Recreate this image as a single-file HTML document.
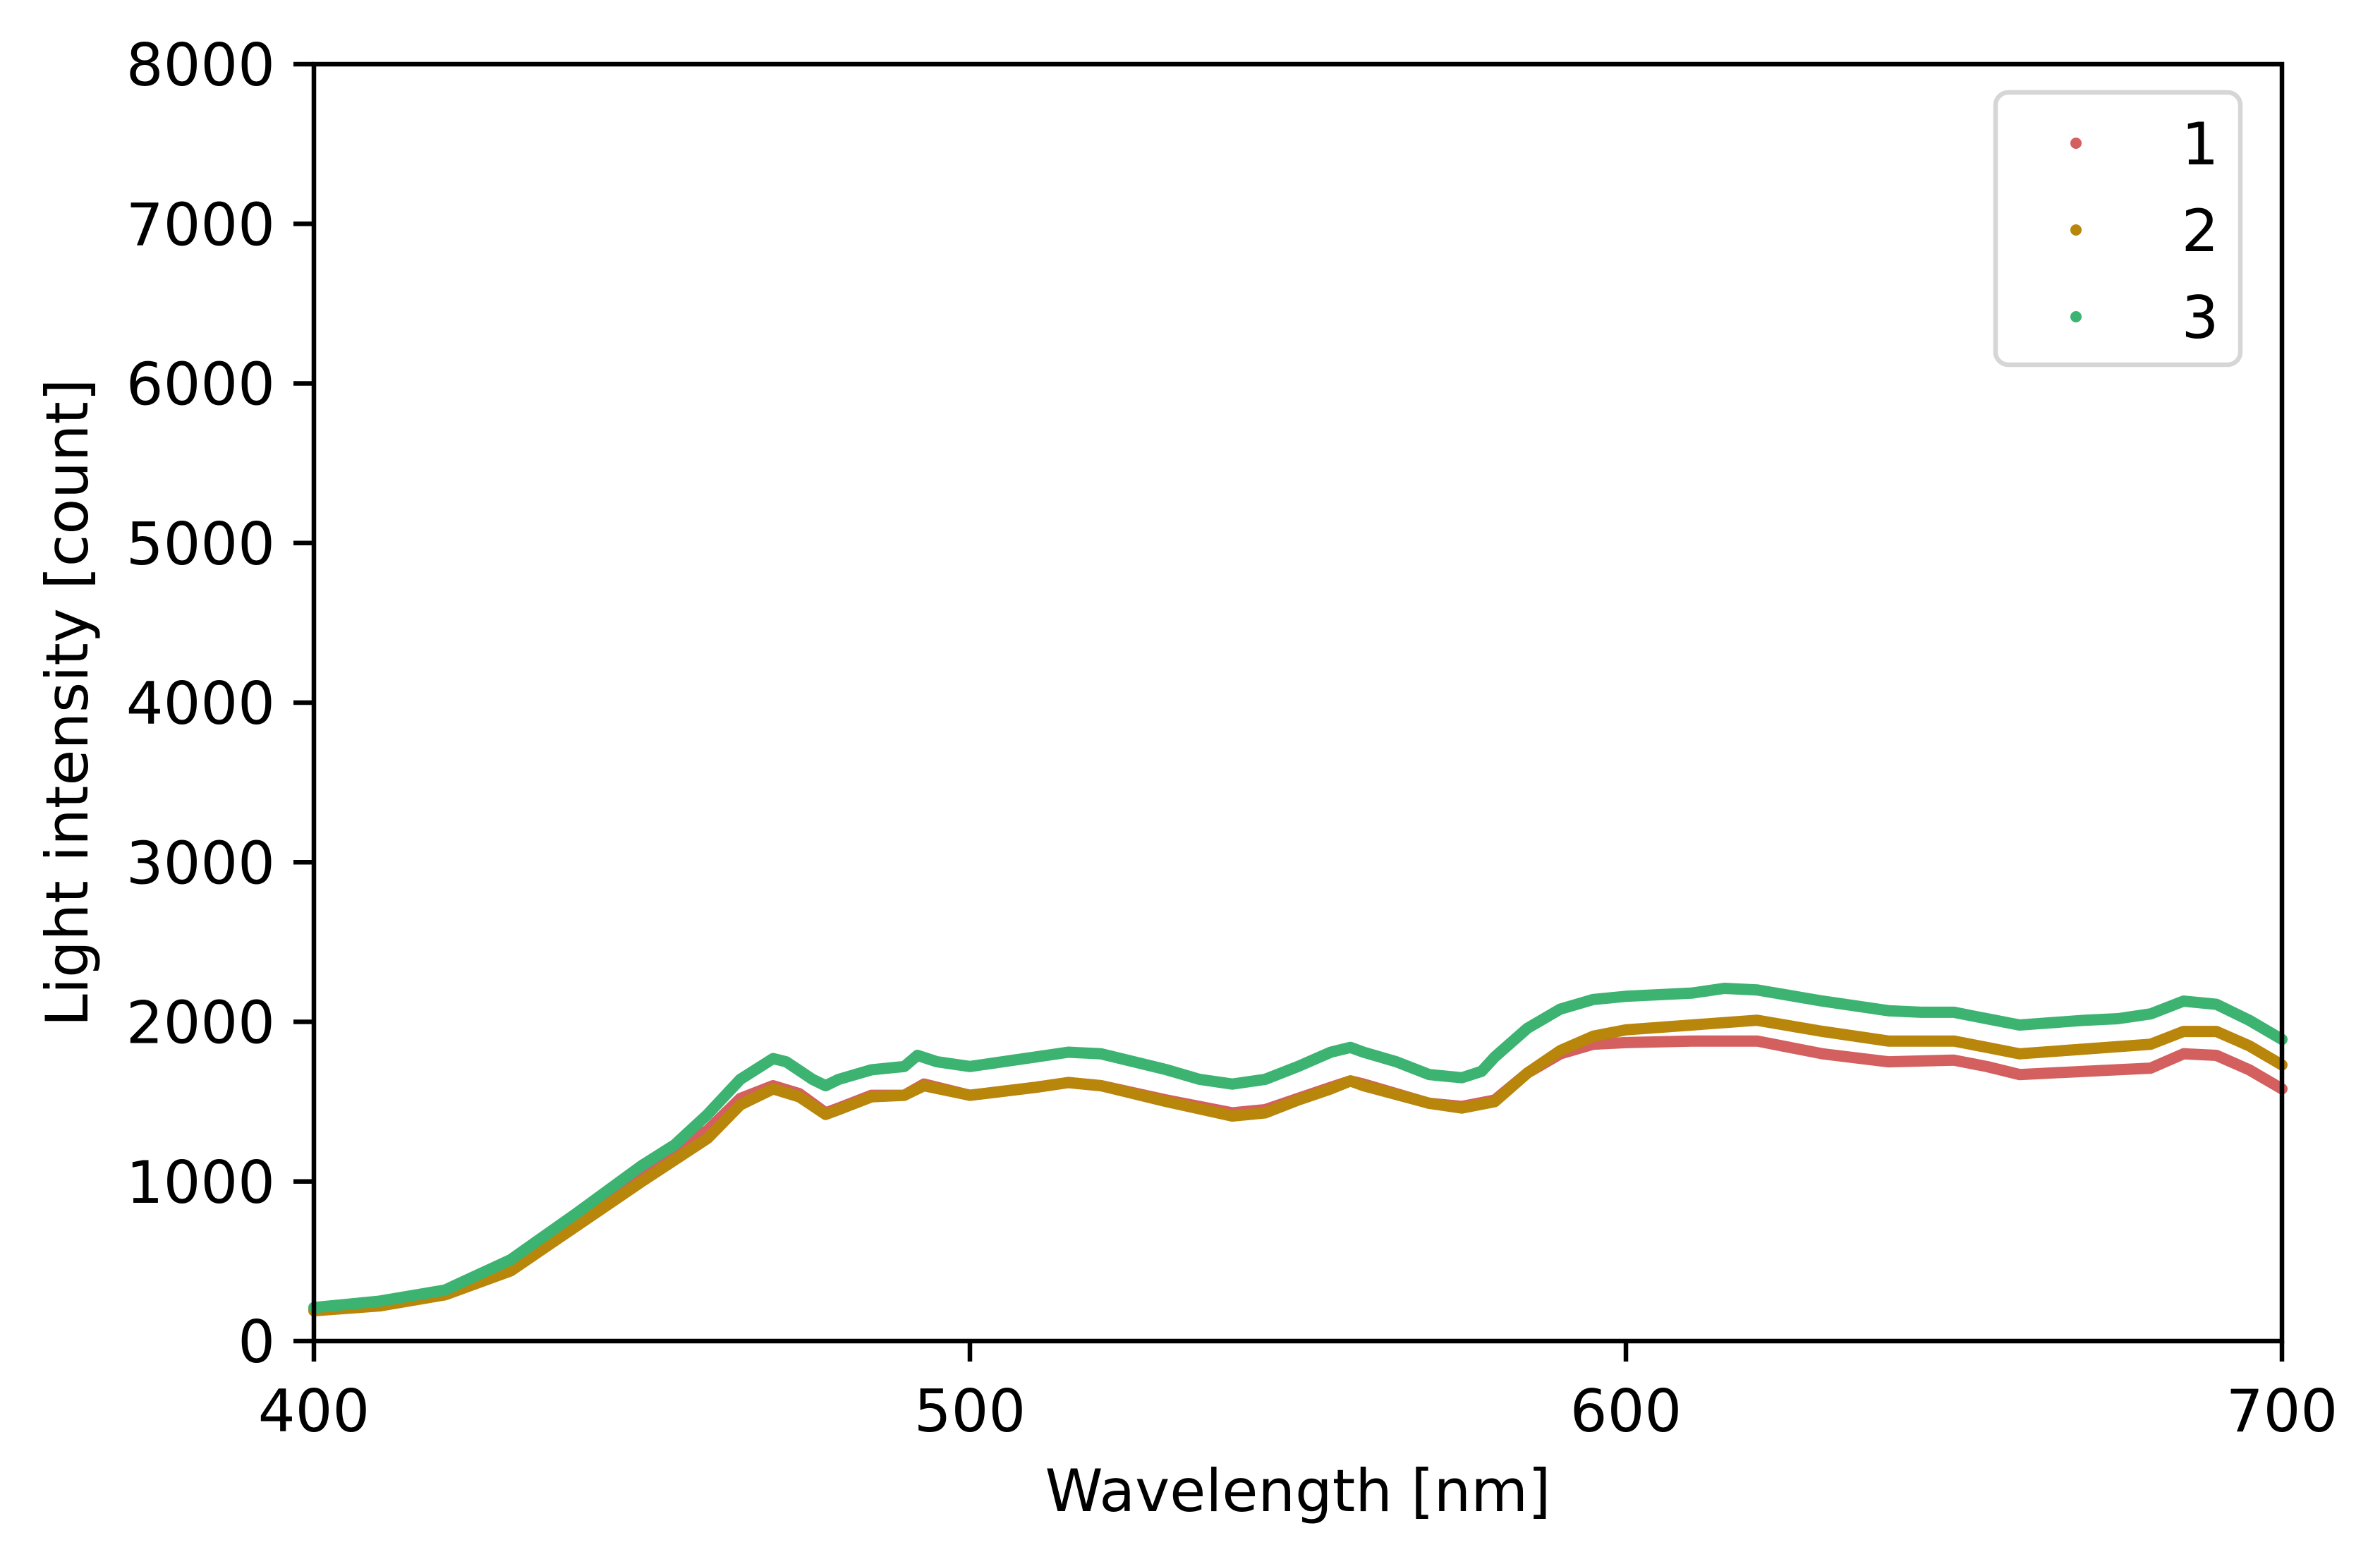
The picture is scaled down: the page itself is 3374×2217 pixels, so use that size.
<!DOCTYPE html>
<html><head><meta charset="utf-8"><style>
html,body{margin:0;padding:0;background:#fff}
svg{display:block}
text{font-family:"DejaVu Sans","Liberation Sans",sans-serif;fill:#000}
</style></head><body>
<svg id="chart" width="3374" height="2217" viewBox="0 0 3374 2217" xmlns="http://www.w3.org/2000/svg">
<rect x="0" y="0" width="3374" height="2217" fill="#fff"/>
<g id="plot"></g>
<g id="axes"></g>
</svg>
<script>
const wl1 = [400,410,420,430,440,450,460,465,470,474,478,480,485,490,493,500,510,515,520,530,540,545,550,555,558,560,570,575,580,585,590,595,600,610,620,630,640,650,655,660,670,680,685,690,695,700];
const s1 = [200,230,300,460,760,1060,1320,1520,1600,1550,1430,1460,1540,1540,1610,1540,1590,1620,1600,1510,1430,1450,1520,1590,1630,1610,1490,1470,1510,1680,1800,1860,1870,1880,1880,1800,1750,1760,1720,1670,1690,1710,1800,1790,1700,1580];
const s2 = [190,220,290,440,720,1000,1270,1480,1580,1530,1420,1450,1530,1540,1600,1540,1590,1620,1600,1500,1410,1430,1510,1580,1630,1600,1490,1460,1500,1680,1820,1910,1950,1980,2010,1940,1880,1880,1840,1800,1830,1860,1940,1940,1850,1730];
const wl3 = [400,410,420,430,440,450,455,460,465,470,472,476,478,480,485,490,492,495,500,510,515,520,530,535,540,545,550,555,558,560,565,570,575,578,580,585,590,595,600,610,615,620,630,640,645,650,655,660,670,675,680,685,690,695,700];
const s3 = [210,250,320,510,800,1100,1230,1420,1640,1770,1750,1640,1600,1640,1700,1720,1790,1750,1720,1780,1810,1800,1700,1640,1610,1640,1720,1810,1840,1810,1750,1670,1650,1690,1780,1960,2080,2140,2160,2180,2210,2200,2130,2070,2060,2060,2020,1980,2010,2020,2050,2130,2110,2010,1890];
const xTicks = [400,500,600,700];
const yTicks = [0,1000,2000,3000,4000,5000,6000,7000,8000];
const seriesNames = ["1","2","3"];
const colors = ["#d45f5f","#b8860b","#3cb371"];

const L=445,R=3235,T=91,B=1901;
const X=v=>L+(v-400)/300*(R-L);
const Y=v=>B-v/8000*(B-T);
const NS="http://www.w3.org/2000/svg";
function mk(tag,attrs,parent){const e=document.createElementNS(NS,tag);for(const k in attrs)e.setAttribute(k,attrs[k]);parent.appendChild(e);return e;}
const plot=document.getElementById('plot'), axes=document.getElementById('axes');
const data=[[wl1,s1],[wl1,s2],[wl3,s3]];
data.forEach((d,i)=>{
  const pts=d[0].map((w,j)=>X(w).toFixed(1)+","+Y(d[1][j]).toFixed(1)).join(" ");
  const pl=mk('polyline',{points:pts,fill:'none',stroke:colors[i],'stroke-width':16,'stroke-linejoin':'round','stroke-linecap':'round'},plot);
  
  
});
const frame=mk('rect',{x:L,y:T,width:R-L,height:B-T,fill:'none',stroke:'#000','stroke-width':6.5},axes);


xTicks.forEach(v=>{
  const t=mk('line',{x1:X(v),x2:X(v),y1:B,y2:B+29,stroke:'#000','stroke-width':6.5},axes);
  
  
  const l=mk('text',{x:X(v),y:2029,'text-anchor':'middle','font-size':83},axes);
  l.textContent=v;
  
  
});
yTicks.forEach(v=>{
  const t=mk('line',{x1:L-29,x2:L,y1:Y(v),y2:Y(v),stroke:'#000','stroke-width':6.5},axes);
  
  
  const l=mk('text',{x:390,y:Y(v)+30,'text-anchor':'end','font-size':83},axes);
  l.textContent=v;
  
  
});
const xt=mk('text',{x:(L+R)/2,y:2142,'text-anchor':'middle','font-size':83},axes);
xt.textContent='Wavelength [nm]';


const yt=mk('text',{x:0,y:0,'text-anchor':'middle','font-size':83,transform:'translate(124,'+((T+B)/2)+') rotate(-90)'},axes);
yt.textContent='Light intensity [count]';


const lg=mk('g',{},axes);


const box=mk('rect',{x:2829,y:131,width:347,height:386,rx:18,fill:'#fff',stroke:'#d6d6d6','stroke-width':6.5},lg);


const ly=[203,326,449];
seriesNames.forEach((n,i)=>{
  const c=mk('circle',{cx:2943,cy:ly[i],r:8,fill:colors[i]},lg);
  
  
  const t=mk('text',{x:3119,y:ly[i]+30,'text-anchor':'middle','font-size':83},lg);
  t.textContent=n;
  
  
});
</script>
</body></html>
